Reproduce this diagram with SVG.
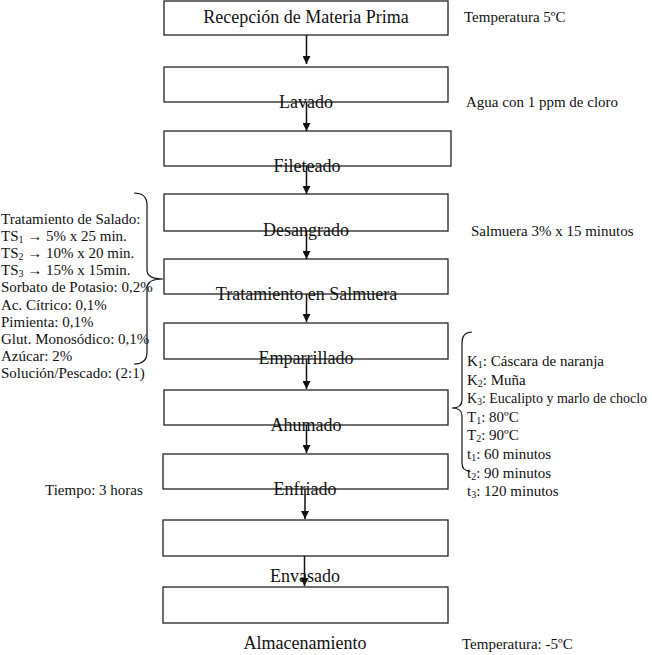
<svg xmlns="http://www.w3.org/2000/svg" width="652" height="655" viewBox="0 0 652 655">
<defs>
<style>
.box{fill:#fff;stroke:#222;stroke-width:1.3}
.lbl{font-family:"Liberation Serif","Times New Roman",serif;font-size:18px;fill:#111;text-anchor:middle}
.note{font-family:"Liberation Serif","Times New Roman",serif;font-size:15px;fill:#111}
.conn{stroke:#111;stroke-width:1.5;fill:none}
.brace{stroke:#111;stroke-width:1.2;fill:none}
</style>
<marker id="ah" viewBox="0 0 8 8" refX="8" refY="4" markerWidth="8" markerHeight="8" markerUnits="userSpaceOnUse" orient="auto">
<path d="M0,0 L8,4 L0,8 z" fill="#111"/>
</marker>
</defs>
<rect width="652" height="655" fill="#fff"/>
<g id="n1"><rect class="box" x="164" y="1" width="284" height="34"/><text class="lbl" x="306" y="23">Recepción de Materia Prima</text></g>
<g id="n2"><rect class="box" x="164" y="67" width="284" height="35"/></g>
<g id="n3"><rect class="box" x="164" y="131" width="287" height="35"/></g>
<g id="n4"><rect class="box" x="164" y="194" width="284" height="37"/></g>
<g id="n5"><rect class="box" x="164" y="259" width="284" height="35"/></g>
<g id="n6"><rect class="box" x="164" y="323" width="284" height="36"/></g>
<g id="n7"><rect class="box" x="164" y="390" width="284" height="35"/></g>
<g id="n8"><rect class="box" x="163" y="454" width="285" height="35"/></g>
<g id="n9"><rect class="box" x="163" y="520" width="285" height="36"/></g>
<g id="n10"><rect class="box" x="163" y="587" width="285" height="36"/></g>
<g id="connectors">
<line class="conn" x1="306.5" y1="35" x2="306.5" y2="64" marker-end="url(#ah)"/>
<line class="conn" x1="306.5" y1="102" x2="306.5" y2="131" marker-end="url(#ah)"/>
<line class="conn" x1="306.5" y1="166" x2="306.5" y2="194" marker-end="url(#ah)"/>
<line class="conn" x1="306.5" y1="231" x2="306.5" y2="259" marker-end="url(#ah)"/>
<line class="conn" x1="306.5" y1="294" x2="306.5" y2="322" marker-end="url(#ah)"/>
<line class="conn" x1="306.5" y1="359" x2="306.5" y2="389" marker-end="url(#ah)"/>
<line class="conn" x1="306.5" y1="425" x2="306.5" y2="453" marker-end="url(#ah)"/>
<line class="conn" x1="305" y1="489" x2="305" y2="519" marker-end="url(#ah)"/>
<line class="conn" x1="304.5" y1="556" x2="304.5" y2="586" marker-end="url(#ah)"/>
</g>
<g id="labels">
<text class="lbl" x="306" y="108">Lavado</text>
<text class="lbl" x="307" y="172">Fileteado</text>
<text class="lbl" x="306" y="236">Desangrado</text>
<text class="lbl" x="306.5" y="300">Tratamiento en Salmuera</text>
<text class="lbl" x="306" y="364">Emparrillado</text>
<text class="lbl" x="306" y="431">Ahumado</text>
<text class="lbl" x="305" y="495">Enfriado</text>
<text class="lbl" x="305" y="582">Envasado</text>
<text class="lbl" x="305" y="649">Almacenamiento</text>
</g>
<g id="notes">
<text class="note" x="464" y="22">Temperatura 5ºC</text>
<text class="note" x="466" y="107">Agua con 1 ppm de cloro</text>
<text class="note" x="471" y="236">Salmuera 3% x 15 minutos</text>
<text class="note" x="45" y="495">Tiempo: 3 horas</text>
<text class="note" x="462" y="649">Temperatura: -5ºC</text>
</g>
<g id="salado">
<path class="brace" d="M134,193 Q147,193 147,205 L147,270 Q147,279 163,279 Q147,279 147,288 L147,352 Q147,364 134,364"/>
<text class="note" x="1" y="223.5">Tratamiento de Salado:</text>
<text class="note" x="1" y="240.7">TS<tspan font-size="10" dy="2">1</tspan><tspan dy="-2"> → 5% x 25 min.</tspan></text>
<text class="note" x="1" y="257.9">TS<tspan font-size="10" dy="2">2</tspan><tspan dy="-2"> → 10% x 20 min.</tspan></text>
<text class="note" x="1" y="275.1">TS<tspan font-size="10" dy="2">3</tspan><tspan dy="-2"> → 15% x 15min.</tspan></text>
<text class="note" x="1" y="292.3">Sorbato de Potasio: 0,2%</text>
<text class="note" x="1" y="309.5">Ac. Cítrico: 0,1%</text>
<text class="note" x="1" y="326.7">Pimienta: 0,1%</text>
<text class="note" x="1" y="343.9">Glut. Monosódico: 0,1%</text>
<text class="note" x="1" y="361.1">Azúcar: 2%</text>
<text class="note" x="1" y="378.3">Solución/Pescado: (2:1)</text>
</g>
<g id="ahumado">
<path class="brace" d="M472,332 Q462,332 462,343 L462,400 Q462,408 452,408 Q462,408 462,416 L462,463 Q462,471 470,471"/>
<text class="note" x="467" y="366">K<tspan font-size="10" dy="2">1</tspan><tspan dy="-2">: Cáscara de naranja</tspan></text>
<text class="note" x="467" y="384.6">K<tspan font-size="10" dy="2">2</tspan><tspan dy="-2">: Muña</tspan></text>
<text class="note" x="467" y="403.2" style="font-size:14px">K<tspan font-size="9.5" dy="2">3</tspan><tspan dy="-2">: Eucalipto y marlo de choclo</tspan></text>
<text class="note" x="467" y="421.8">T<tspan font-size="10" dy="2">1</tspan><tspan dy="-2">: 80ºC</tspan></text>
<text class="note" x="467" y="440.4">T<tspan font-size="10" dy="2">2</tspan><tspan dy="-2">: 90ºC</tspan></text>
<text class="note" x="467" y="459">t<tspan font-size="10" dy="2">1</tspan><tspan dy="-2">: 60 minutos</tspan></text>
<text class="note" x="467" y="477.6">t<tspan font-size="10" dy="2">2</tspan><tspan dy="-2">: 90 minutos</tspan></text>
<text class="note" x="467" y="496.2">t<tspan font-size="10" dy="2">3</tspan><tspan dy="-2">: 120 minutos</tspan></text>
</g>
</svg>
